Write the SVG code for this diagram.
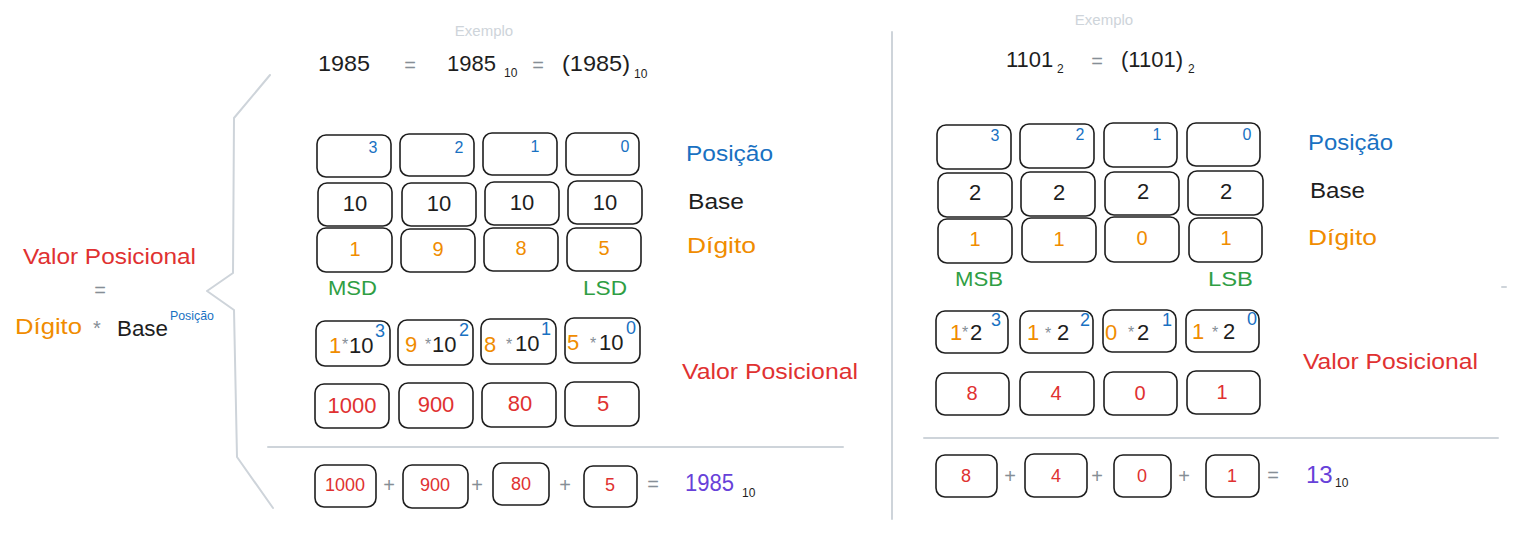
<svg xmlns="http://www.w3.org/2000/svg" width="1517" height="536" viewBox="0 0 1517 536">
<style>
text{font-family:"Liberation Sans","DejaVu Sans",sans-serif;}
.bx{fill:none;stroke:#1e1e1e;stroke-width:1.6;}
.ln{fill:none;stroke:#ced4da;stroke-width:2;stroke-linecap:round;stroke-linejoin:round;}
.k{fill:#1e1e1e;}
.r{fill:#e03131;}
.o{fill:#f08c00;}
.b{fill:#1971c2;}
.g{fill:#2f9e44;}
.p{fill:#6741d9;}
.gr{fill:#868e96;}
.ex{fill:#ced4da;font-size:15px;}
.m{text-anchor:middle;}
.s22{font-size:22px;}
.s20{font-size:20px;}
.s18{font-size:18px;}
.s16{font-size:16px;}
.s12{font-size:12px;}
</style>
<rect width="1517" height="536" fill="#ffffff"/>

<g id="connectors">
<path class="ln" d="M270,75 L234,118 L233,273 L207,291 L234,310 L237,457 L273,508"/>
<line class="ln" x1="268" y1="447" x2="843" y2="447"/>
<line class="ln" x1="924" y1="438" x2="1498" y2="438"/>
<line class="ln" x1="892" y1="32" x2="892" y2="519"/>
<line class="ln" x1="1502" y1="287" x2="1506" y2="287" stroke-width="1.5"/>
</g>

<g id="formula">
<text x="23" y="264" class="r s22" textLength="173" lengthAdjust="spacingAndGlyphs">Valor Posicional</text>
<text x="100" y="297" class="gr s20 m">=</text>
<text x="15" y="334" class="o s22" textLength="67" lengthAdjust="spacingAndGlyphs">Dígito</text>
<text x="97" y="335" class="gr s20 m">*</text>
<text x="117" y="336" class="k s22" textLength="51" lengthAdjust="spacingAndGlyphs">Base</text>
<text x="170" y="320" class="b s12" textLength="44" lengthAdjust="spacingAndGlyphs">Posição</text>
</g>

<g id="header-left">
<text x="484" y="36" class="ex m">Exemplo</text>
<text x="318" y="71" class="k s22" textLength="52" lengthAdjust="spacingAndGlyphs">1985</text>
<text x="410" y="72" class="gr s20 m">=</text>
<text x="447" y="71" class="k s22" textLength="49" lengthAdjust="spacingAndGlyphs">1985</text>
<text x="504" y="77" class="k s12">10</text>
<text x="538" y="72" class="gr s20 m">=</text>
<text x="562" y="71" class="k s22" textLength="68" lengthAdjust="spacingAndGlyphs">(1985)</text>
<text x="634" y="78" class="k s12">10</text>
</g>

<g id="header-right">
<text x="1104" y="25" class="ex m">Exemplo</text>
<text x="1006" y="67" class="k s22">1101</text>
<text x="1057" y="73" class="k s12">2</text>
<text x="1097" y="68" class="gr s20 m">=</text>
<text x="1121" y="67" class="k s22">(1101)</text>
<text x="1188" y="73" class="k s12">2</text>
</g>

<!-- Left: position row -->
<g id="L-pos-3"><rect class="bx" x="317" y="135" width="74" height="42" rx="9"/><text x="373" y="153" class="b s16 m">3</text></g>
<g id="L-pos-2"><rect class="bx" x="400" y="134" width="74" height="42" rx="9"/><text x="459" y="153" class="b s16 m">2</text></g>
<g id="L-pos-1"><rect class="bx" x="483" y="133" width="74" height="42" rx="9"/><text x="535" y="152" class="b s16 m">1</text></g>
<g id="L-pos-0"><rect class="bx" x="566" y="133" width="73" height="42" rx="9"/><text x="625" y="152" class="b s16 m">0</text></g>
<!-- Left: base row -->
<g id="L-base-1"><rect class="bx" x="318" y="183" width="74" height="43" rx="9"/><text x="355" y="211" class="k s22 m">10</text></g>
<g id="L-base-2"><rect class="bx" x="402" y="183" width="74" height="43" rx="9"/><text x="439" y="211" class="k s22 m">10</text></g>
<g id="L-base-3"><rect class="bx" x="485" y="182" width="74" height="43" rx="9"/><text x="522" y="210" class="k s22 m">10</text></g>
<g id="L-base-4"><rect class="bx" x="568" y="181" width="74" height="43" rx="9"/><text x="605" y="210" class="k s22 m">10</text></g>
<!-- Left: digit row -->
<g id="L-dig-1"><rect class="bx" x="317" y="228" width="75" height="44" rx="9"/><text x="355" y="256" class="o s20 m">1</text></g>
<g id="L-dig-9"><rect class="bx" x="401" y="229" width="74" height="43" rx="9"/><text x="438" y="256" class="o s20 m">9</text></g>
<g id="L-dig-8"><rect class="bx" x="484" y="228" width="74" height="43" rx="9"/><text x="521" y="255" class="o s20 m">8</text></g>
<g id="L-dig-5"><rect class="bx" x="567" y="228" width="74" height="43" rx="9"/><text x="604" y="255" class="o s20 m">5</text></g>
<g id="L-msd"><text x="328" y="295" class="g s20" textLength="49" lengthAdjust="spacingAndGlyphs">MSD</text></g>
<g id="L-lsd"><text x="583" y="295" class="g s20" textLength="44" lengthAdjust="spacingAndGlyphs">LSD</text></g>
<g id="L-labels">
<text x="686" y="161" class="b s22" textLength="87" lengthAdjust="spacingAndGlyphs">Posição</text>
<text x="688" y="209" class="k s22" textLength="56" lengthAdjust="spacingAndGlyphs">Base</text>
<text x="687" y="253" class="o s22" textLength="69" lengthAdjust="spacingAndGlyphs">Dígito</text>
<text x="682" y="379" class="r s22" textLength="176" lengthAdjust="spacingAndGlyphs">Valor Posicional</text>
</g>
<!-- Left: product row -->
<g id="L-prod-3"><rect class="bx" x="316" y="321" width="74" height="45" rx="9"/>
<text x="329" y="353" class="o s22">1</text><text x="345" y="350" class="gr s16 m">*</text><text x="349" y="353" class="k s22">10</text><text x="375" y="337" class="b s18">3</text></g>
<g id="L-prod-2"><rect class="bx" x="398" y="320" width="75" height="45" rx="9"/>
<text x="405" y="352" class="o s22">9</text><text x="428" y="350" class="gr s16 m">*</text><text x="432" y="352" class="k s22">10</text><text x="459" y="336" class="b s18">2</text></g>
<g id="L-prod-1"><rect class="bx" x="481" y="319" width="75" height="45" rx="9"/>
<text x="484" y="352" class="o s22">8</text><text x="509" y="350" class="gr s16 m">*</text><text x="515" y="351" class="k s22">10</text><text x="541" y="335" class="b s18">1</text></g>
<g id="L-prod-0"><rect class="bx" x="565" y="318" width="75" height="45" rx="9"/>
<text x="567" y="350" class="o s22">5</text><text x="593" y="349" class="gr s16 m">*</text><text x="599" y="350" class="k s22">10</text><text x="626" y="334" class="b s18">0</text></g>
<!-- Left: value row -->
<g id="L-val-1000"><rect class="bx" x="315" y="384" width="74" height="44" rx="9"/><text x="352" y="413" class="r s22 m">1000</text></g>
<g id="L-val-900"><rect class="bx" x="399" y="383" width="74" height="45" rx="9"/><text x="436" y="412" class="r s22 m">900</text></g>
<g id="L-val-80"><rect class="bx" x="482" y="383" width="74" height="44" rx="9"/><text x="520" y="411" class="r s22 m">80</text></g>
<g id="L-val-5"><rect class="bx" x="565" y="382" width="74" height="44" rx="9"/><text x="603" y="411" class="r s22 m">5</text></g>
<!-- Left: sum row -->
<g id="L-sum-1000"><rect class="bx" x="315" y="465" width="61" height="42" rx="9"/><text x="345" y="491" class="r s18 m">1000</text></g>
<g id="L-sum-900"><rect class="bx" x="403" y="465" width="65" height="43" rx="9"/><text x="435" y="491" class="r s18 m">900</text></g>
<g id="L-sum-80"><rect class="bx" x="493" y="463" width="56" height="42" rx="9"/><text x="521" y="490" class="r s18 m">80</text></g>
<g id="L-sum-5"><rect class="bx" x="584" y="466" width="53" height="41" rx="9"/><text x="610" y="491" class="r s18 m">5</text></g>
<g id="L-sum-ops">
<text x="389" y="492" class="gr s20 m">+</text>
<text x="477" y="492" class="gr s20 m">+</text>
<text x="565" y="492" class="gr s20 m">+</text>
<text x="653" y="491" class="gr s20 m">=</text>
<text x="685" y="491" class="p" font-size="24" textLength="49" lengthAdjust="spacingAndGlyphs">1985</text>
<text x="742" y="497" class="k s12">10</text>
</g>

<!-- Right: position row -->
<g id="R-pos-3"><rect class="bx" x="937" y="125" width="74" height="44" rx="9"/><text x="995" y="141" class="b s16 m">3</text></g>
<g id="R-pos-2"><rect class="bx" x="1020" y="124" width="74" height="44" rx="9"/><text x="1080" y="140" class="b s16 m">2</text></g>
<g id="R-pos-1"><rect class="bx" x="1104" y="123" width="73" height="44" rx="9"/><text x="1157" y="140" class="b s16 m">1</text></g>
<g id="R-pos-0"><rect class="bx" x="1187" y="123" width="73" height="43" rx="9"/><text x="1247" y="140" class="b s16 m">0</text></g>
<!-- Right: base row -->
<g id="R-base-1"><rect class="bx" x="938" y="173" width="74" height="44" rx="9"/><text x="975" y="200" class="k s22 m">2</text></g>
<g id="R-base-2"><rect class="bx" x="1021" y="172" width="74" height="44" rx="9"/><text x="1059" y="200" class="k s22 m">2</text></g>
<g id="R-base-3"><rect class="bx" x="1105" y="172" width="74" height="43" rx="9"/><text x="1143" y="199" class="k s22 m">2</text></g>
<g id="R-base-4"><rect class="bx" x="1188" y="171" width="75" height="44" rx="9"/><text x="1226" y="199" class="k s22 m">2</text></g>
<!-- Right: digit row -->
<g id="R-dig-1a"><rect class="bx" x="938" y="219" width="74" height="44" rx="9"/><text x="975" y="246" class="o s20 m">1</text></g>
<g id="R-dig-1b"><rect class="bx" x="1022" y="218" width="74" height="44" rx="9"/><text x="1059" y="246" class="o s20 m">1</text></g>
<g id="R-dig-0"><rect class="bx" x="1105" y="217" width="74" height="45" rx="9"/><text x="1142" y="245" class="o s20 m">0</text></g>
<g id="R-dig-1c"><rect class="bx" x="1189" y="218" width="73" height="44" rx="9"/><text x="1226" y="245" class="o s20 m">1</text></g>
<g id="R-msb"><text x="955" y="286" class="g s20" textLength="48" lengthAdjust="spacingAndGlyphs">MSB</text></g>
<g id="R-lsb"><text x="1208" y="286" class="g s20" textLength="45" lengthAdjust="spacingAndGlyphs">LSB</text></g>
<g id="R-labels">
<text x="1308" y="150" class="b s22" textLength="85" lengthAdjust="spacingAndGlyphs">Posição</text>
<text x="1310" y="198" class="k s22" textLength="55" lengthAdjust="spacingAndGlyphs">Base</text>
<text x="1308" y="245" class="o s22" textLength="69" lengthAdjust="spacingAndGlyphs">Dígito</text>
<text x="1303" y="369" class="r s22" textLength="175" lengthAdjust="spacingAndGlyphs">Valor Posicional</text>
</g>
<!-- Right: product row -->
<g id="R-prod-3"><rect class="bx" x="936" y="311" width="72" height="42" rx="9"/>
<text x="950" y="340" class="o s22">1</text><text x="965" y="338" class="gr s16 m">*</text><text x="970" y="340" class="k s22">2</text><text x="991" y="326" class="b s18">3</text></g>
<g id="R-prod-2"><rect class="bx" x="1020" y="311" width="73" height="42" rx="9"/>
<text x="1027" y="340" class="o s22">1</text><text x="1048" y="339" class="gr s16 m">*</text><text x="1057" y="340" class="k s22">2</text><text x="1080" y="326" class="b s18">2</text></g>
<g id="R-prod-1"><rect class="bx" x="1103" y="310" width="73" height="42" rx="9"/>
<text x="1105" y="340" class="o s22">0</text><text x="1131" y="338" class="gr s16 m">*</text><text x="1137" y="340" class="k s22">2</text><text x="1162" y="326" class="b s18">1</text></g>
<g id="R-prod-0"><rect class="bx" x="1186" y="310" width="73" height="42" rx="9"/>
<text x="1192" y="339" class="o s22">1</text><text x="1215" y="338" class="gr s16 m">*</text><text x="1223" y="339" class="k s22">2</text><text x="1247" y="325" class="b s18">0</text></g>
<!-- Right: value row -->
<g id="R-val-8"><rect class="bx" x="936" y="373" width="73" height="42" rx="9"/><text x="972" y="400" class="r s20 m">8</text></g>
<g id="R-val-4"><rect class="bx" x="1020" y="372" width="74" height="43" rx="9"/><text x="1056" y="400" class="r s20 m">4</text></g>
<g id="R-val-0"><rect class="bx" x="1104" y="372" width="73" height="43" rx="9"/><text x="1140" y="400" class="r s20 m">0</text></g>
<g id="R-val-1"><rect class="bx" x="1187" y="371" width="73" height="43" rx="9"/><text x="1222" y="399" class="r s20 m">1</text></g>
<!-- Right: sum row -->
<g id="R-sum-8"><rect class="bx" x="936" y="455" width="61" height="42" rx="9"/><text x="966" y="482" class="r s18 m">8</text></g>
<g id="R-sum-4"><rect class="bx" x="1025" y="454" width="62" height="43" rx="9"/><text x="1056" y="482" class="r s18 m">4</text></g>
<g id="R-sum-0"><rect class="bx" x="1114" y="455" width="57" height="42" rx="9"/><text x="1142" y="482" class="r s18 m">0</text></g>
<g id="R-sum-1"><rect class="bx" x="1206" y="455" width="53" height="42" rx="9"/><text x="1232" y="482" class="r s18 m">1</text></g>
<g id="R-sum-ops">
<text x="1010" y="483" class="gr s20 m">+</text>
<text x="1097" y="483" class="gr s20 m">+</text>
<text x="1184" y="483" class="gr s20 m">+</text>
<text x="1273" y="482" class="gr s20 m">=</text>
<text x="1306" y="483" class="p" font-size="24">13</text>
<text x="1335" y="487" class="k s12">10</text>
</g>
</svg>
